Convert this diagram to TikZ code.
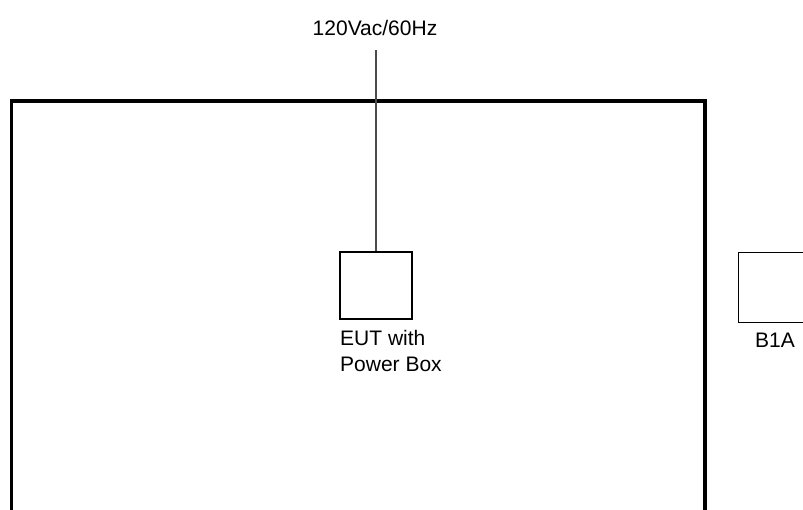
\documentclass[tikz,border=0pt]{standalone}
\usepackage{fontspec}
\setmainfont{Liberation Sans}
\begin{document}
\begin{tikzpicture}[x=1pt, y=-1pt,
    label/.style={font=\fontsize{21}{26}\selectfont, inner sep=0pt, align=left},
    unitbox/.style={draw, line width=1.2pt, minimum width=72pt, minimum height=67pt, inner sep=0pt}]
            \useasboundingbox (0, 0) rectangle (803, 510);
            % Ban thu (tabletop)
            \draw[line width=3.6pt, line join=miter] (11.5, 515) -- (11.5, 101) -- (705, 101) -- (705, 515);
            % Thiet bi EUT
            \node[unitbox] (eut) at (376, 285.5) {};
            \node[label, anchor=base west] (euttext) at (340, 372) {EUT with\\Power Box};
            % Thiet bi B1A
            \node[unitbox, minimum width=80pt, minimum height=70pt, anchor=north west] (b1a) at (737.5, 252) {};
            \node[label, anchor=base west] (b1atext) at (755, 348) {B1A};
            % Nguon cap
            \node[label, anchor=base] (ac) at (375, 36) {120Vac/60Hz};
            \coordinate (feed) at (376, 50);
            \draw[line width=1.4pt, black!70] (feed) -- (eut.north);
        \end{tikzpicture}
\end{document}
